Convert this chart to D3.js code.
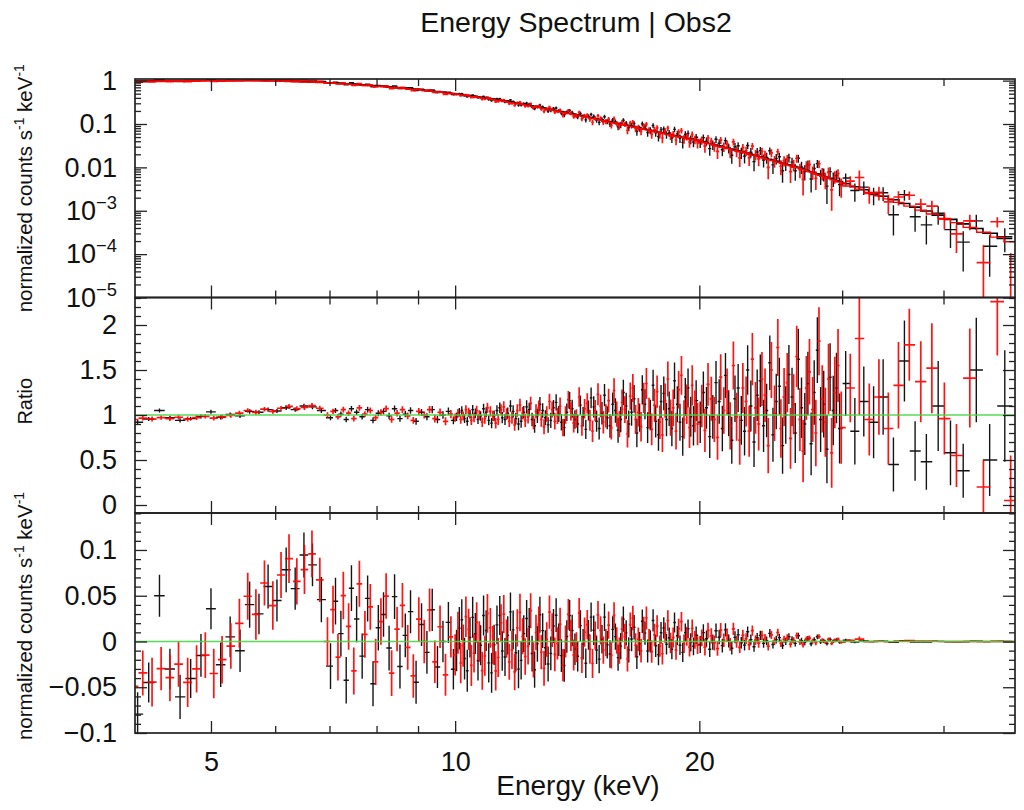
<!DOCTYPE html>
<html>
<head>
<meta charset="utf-8">
<script src="https://cdn.jsdelivr.net/npm/d3@7"></script>
<style>
  body { margin: 0; background: #fff; }
  svg { display: block; }
  text { font-family: "Liberation Sans", Arial, Helvetica, sans-serif; fill: #111; }
</style>
</head>
<body>
<svg id="chart" width="1024" height="810"></svg>
<script>
// ---- Spectral data: two detector groups (black / red), binned channels ----
// bin centre energies (keV)
const blackE = [
  4.06, 4.19, 4.32, 4.45, 4.58, 4.72, 4.86, 5.00, 5.14, 5.28, 5.43, 5.58, 5.73, 5.88, 6.03, 6.19, 6.35, 6.51, 6.67, 6.84,
  7.02, 7.12, 7.23, 7.34, 7.45, 7.56, 7.68, 7.80, 7.92, 8.04, 8.16, 8.29, 8.42, 8.55, 8.68, 8.81, 8.95, 9.09, 9.23, 9.37, 9.51, 9.66, 9.81, 9.95,
  10.04, 10.12, 10.19, 10.27, 10.35, 10.43, 10.51, 10.59, 10.67, 10.75,
  10.84, 10.92, 11.00, 11.09, 11.17, 11.26, 11.35, 11.43, 11.52, 11.61,
  11.70, 11.79, 11.88, 11.97, 12.06, 12.15, 12.25, 12.34, 12.44, 12.53,
  12.63, 12.72, 12.82, 12.92, 13.02, 13.12, 13.22, 13.32, 13.42, 13.52,
  13.63, 13.73, 13.84, 13.94, 14.05, 14.16, 14.27, 14.38, 14.49, 14.60,
  14.71, 14.82, 14.94, 15.05, 15.17, 15.28, 15.40, 15.52, 15.64, 15.76,
  15.88, 16.00, 16.12, 16.25, 16.37, 16.50, 16.62, 16.75, 16.88, 17.01,
  17.14, 17.27, 17.40, 17.54, 17.67, 17.81, 17.94, 18.08, 18.22, 18.36,
  18.50, 18.64, 18.79, 18.93, 19.08, 19.22, 19.37, 19.52, 19.67, 19.82,
  20.05, 20.23, 20.41, 20.60, 20.78, 20.97, 21.16, 21.35, 21.54, 21.74,
  21.93, 22.13, 22.33, 22.53, 22.74, 22.94, 23.15, 23.36, 23.57, 23.78,
  24.00, 24.21, 24.43, 24.65, 24.88, 25.10, 25.33, 25.56, 25.79, 26.02,
  26.26, 26.49, 26.73, 26.98, 27.22, 27.47, 27.71, 27.96, 28.22, 28.47,
  28.73, 28.99, 29.25, 29.52, 29.78,
  30.3, 31.1, 31.9, 32.8, 33.7, 34.7, 35.8, 36.9, 38.1, 39.4, 40.8, 42.3, 43.9, 45.6, 47.6
];
// data / model ratio for each bin
const blackRatio = [
  0.92, 0.955, 1.05, 0.97, 0.94, 0.96, 0.985, 1.035, 0.975, 1.005, 0.99, 1.04, 1.03, 1.06, 1.045, 1.08, 1.06, 1.10, 1.09, 1.05,
  0.97, 1.05, 1.01, 0.95, 1.07, 1.03, 0.98, 1.06, 0.94, 1.02, 1.04, 0.99, 1.07, 0.96, 1.01, 1.05, 0.93, 1.03, 0.98, 1.06, 0.95, 1.00, 1.04, 0.94,
  0.98, 1.03, 1.05, 0.96, 0.93, 1.01, 1.06, 1.02, 0.95, 0.99,
  1.07, 1.03, 0.94, 0.91, 0.99, 1.05, 1.08, 0.97, 0.95, 1.02,
  1.10, 1.04, 0.96, 0.90, 0.93, 1.03, 1.09, 1.06, 0.95, 0.88,
  0.99, 1.12, 1.05, 0.97, 0.89, 0.94, 1.08, 1.14, 1.01, 0.92,
  0.86, 1.03, 1.16, 1.07, 0.95, 0.90, 1.11, 0.98, 0.84, 1.05,
  1.19, 1.09, 0.93, 0.85, 1.02, 1.22, 0.97, 0.88, 1.12, 1.05,
  0.83, 0.95, 1.25, 1.10, 0.90, 1.03, 1.18, 0.80, 0.97, 1.28,
  1.12, 0.86, 1.00, 1.33, 0.93, 0.78, 1.15, 1.24, 0.95, 1.07,
  0.85, 1.38, 1.12, 0.92, 0.76, 1.20, 1.30, 0.98, 0.88, 1.16,
  0.92, 1.25, 1.08, 0.76, 0.98, 1.36, 1.15, 0.85, 1.44, 1.02,
  0.72, 1.18, 1.30, 0.94, 0.82, 1.50, 1.10, 0.70, 1.22, 1.38,
  0.88, 1.05, 1.58, 0.78, 1.15, 1.32, 0.66, 1.00, 1.45, 1.20,
  0.80, 1.62, 1.08, 0.90, 1.35, 0.68, 1.25, 1.72, 0.95, 1.12,
  0.62, 1.42, 1.05, 1.30, 0.85,
  1.35, 0.82, 1.15, 0.92, 1.20, 0.45, 1.60, 0.60, 0.48, 1.10, 0.58, 0.38, 1.50, 0.50, 1.10
];
// 1-sigma error on the ratio
const blackErr = [
  0.024, 0.022, 0.023, 0.022, 0.024, 0.021, 0.023, 0.022, 0.024, 0.022, 0.023, 0.025, 0.022, 0.024, 0.023, 0.025, 0.024, 0.026, 0.025, 0.027,
  0.028, 0.029, 0.029, 0.030, 0.030, 0.031, 0.031, 0.032, 0.032, 0.033, 0.033, 0.034, 0.035, 0.035, 0.036, 0.036, 0.037, 0.038, 0.039, 0.040, 0.041, 0.042, 0.043, 0.044,
  0.046, 0.048, 0.047, 0.049, 0.050, 0.049, 0.051, 0.052, 0.051, 0.053,
  0.054, 0.056, 0.055, 0.057, 0.059, 0.058, 0.060, 0.062, 0.061, 0.063,
  0.065, 0.067, 0.066, 0.069, 0.071, 0.070, 0.073, 0.075, 0.074, 0.077,
  0.079, 0.081, 0.080, 0.083, 0.086, 0.085, 0.088, 0.090, 0.089, 0.092,
  0.095, 0.097, 0.096, 0.100, 0.103, 0.102, 0.106, 0.109, 0.108, 0.112,
  0.115, 0.118, 0.117, 0.121, 0.125, 0.124, 0.128, 0.132, 0.131, 0.135,
  0.139, 0.142, 0.141, 0.146, 0.150, 0.149, 0.154, 0.158, 0.157, 0.162,
  0.166, 0.170, 0.169, 0.174, 0.179, 0.178, 0.183, 0.188, 0.187, 0.192,
  0.197, 0.202, 0.200, 0.206, 0.212, 0.210, 0.216, 0.222, 0.220, 0.227,
  0.230, 0.234, 0.232, 0.238, 0.243, 0.241, 0.247, 0.252, 0.250, 0.256,
  0.261, 0.259, 0.266, 0.271, 0.269, 0.276, 0.282, 0.279, 0.286, 0.292,
  0.290, 0.297, 0.303, 0.300, 0.308, 0.315, 0.312, 0.320, 0.327, 0.324,
  0.332, 0.339, 0.336, 0.345, 0.352, 0.349, 0.357, 0.365, 0.362, 0.371,
  0.379, 0.376, 0.385, 0.393, 0.390,
  0.36, 0.37, 0.39, 0.40, 0.42, 0.30, 0.45, 0.33, 0.31, 0.50, 0.36, 0.30, 0.58, 0.40, 0.62
];

const redE = [
  4.02, 4.12, 4.23, 4.34, 4.45, 4.56, 4.68, 4.80, 4.92, 5.04, 5.16, 5.29, 5.42, 5.55, 5.68, 5.82, 5.96, 6.10, 6.24, 6.38, 6.52, 6.66, 6.81, 6.96,
  7.07, 7.17, 7.28, 7.39, 7.50, 7.62, 7.74, 7.86, 7.98, 8.10, 8.22, 8.35, 8.48, 8.61, 8.74, 8.88, 9.02, 9.16, 9.30, 9.44, 9.58, 9.73, 9.88, 10.00,
  10.08, 10.16, 10.23, 10.31, 10.39, 10.47, 10.55, 10.63, 10.71, 10.80,
  10.88, 10.96, 11.05, 11.13, 11.22, 11.30, 11.39, 11.48, 11.57, 11.66,
  11.75, 11.84, 11.93, 12.02, 12.11, 12.20, 12.30, 12.39, 12.49, 12.58,
  12.68, 12.77, 12.87, 12.97, 13.07, 13.17, 13.27, 13.37, 13.47, 13.58,
  13.68, 13.79, 13.89, 14.00, 14.11, 14.22, 14.33, 14.44, 14.55, 14.66,
  14.77, 14.88, 15.00, 15.11, 15.23, 15.34, 15.46, 15.58, 15.70, 15.82,
  15.94, 16.06, 16.19, 16.31, 16.44, 16.56, 16.69, 16.82, 16.95, 17.08,
  17.21, 17.34, 17.47, 17.61, 17.74, 17.88, 18.01, 18.15, 18.29, 18.43,
  18.57, 18.72, 18.86, 19.01, 19.15, 19.30, 19.45, 19.60, 19.75, 19.90,
  20.14, 20.32, 20.50, 20.69, 20.87, 21.06, 21.25, 21.44, 21.64, 21.83,
  22.03, 22.23, 22.43, 22.63, 22.84, 23.04, 23.25, 23.46, 23.67, 23.89,
  24.10, 24.32, 24.54, 24.76, 24.99, 25.21, 25.44, 25.67, 25.91, 26.14,
  26.37, 26.61, 26.85, 27.10, 27.34, 27.59, 27.84, 28.09, 28.35, 28.60,
  28.86, 29.12, 29.38, 29.65, 29.92,
  30.7, 31.5, 32.4, 33.3, 34.2, 35.2, 36.3, 37.5, 38.7, 40.1, 41.5, 43.1, 44.8, 46.6, 48.4
];
const redRatio = [
  0.95, 0.965, 0.955, 0.97, 0.96, 0.975, 0.955, 0.97, 0.985, 0.965, 0.98, 0.995, 1.02, 1.05, 1.03, 1.065, 1.04, 1.075, 1.095, 1.07, 1.085, 1.105, 1.075, 1.00,
  1.04, 0.98, 1.06, 1.02, 0.96, 1.08, 1.01, 1.05, 0.97, 1.03, 1.07, 0.95, 1.02, 1.06, 0.99, 0.94, 1.04, 1.00, 1.06, 0.96, 1.03, 0.93, 1.01, 0.97,
  1.02, 0.95, 0.99, 1.06, 1.03, 0.94, 0.97, 1.05, 1.00, 0.92,
  0.96, 1.08, 1.04, 0.99, 0.91, 0.95, 1.06, 1.09, 1.01, 0.93,
  0.97, 0.89, 1.05, 1.11, 1.02, 0.94, 0.98, 1.13, 0.92, 1.04,
  1.08, 0.95, 0.87, 1.01, 1.15, 1.06, 0.93, 0.99, 1.10, 0.86,
  1.00, 1.17, 1.04, 0.91, 0.96, 1.20, 0.88, 1.07, 1.13, 0.94,
  0.82, 1.05, 1.23, 1.10, 0.92, 0.99, 1.16, 0.86, 1.27, 1.01,
  0.90, 1.14, 1.06, 0.79, 1.21, 1.30, 0.95, 1.03, 0.87, 1.19,
  1.35, 1.02, 0.84, 1.11, 1.26, 0.92, 0.78, 1.16, 1.40, 0.97,
  1.08, 0.82, 1.28, 1.44, 0.95, 1.12, 0.86, 1.33, 1.04, 0.90,
  1.10, 0.83, 1.34, 1.18, 0.95, 0.75, 1.42, 1.05, 1.26, 0.88,
  1.55, 0.98, 0.72, 1.30, 1.15, 0.82, 1.62, 1.08, 0.90, 1.40,
  1.22, 0.66, 1.50, 1.02, 1.75, 0.85, 1.20, 1.36, 0.74, 1.12,
  1.65, 0.95, 0.60, 1.30, 1.48, 1.06, 0.80, 1.82, 1.18, 0.92,
  1.40, 0.58, 1.25, 1.55, 0.86,
  1.30, 1.85, 0.95, 1.20, 0.85, 1.33, 1.78, 1.37, 1.52, 0.96, 0.55, 1.41, 0.20, 2.26, 0.05
];
const redErr = [
  0.026, 0.025, 0.027, 0.024, 0.026, 0.025, 0.027, 0.026, 0.025, 0.027, 0.026, 0.025, 0.027, 0.026, 0.028, 0.025, 0.027, 0.026, 0.028, 0.027, 0.029, 0.028, 0.027, 0.030,
  0.030, 0.030, 0.031, 0.031, 0.032, 0.032, 0.033, 0.033, 0.034, 0.035, 0.035, 0.036, 0.036, 0.037, 0.038, 0.038, 0.039, 0.040, 0.041, 0.042, 0.043, 0.044, 0.045, 0.046,
  0.048, 0.047, 0.050, 0.049, 0.051, 0.052, 0.050, 0.053, 0.054, 0.052,
  0.056, 0.055, 0.058, 0.057, 0.060, 0.061, 0.059, 0.063, 0.064, 0.062,
  0.067, 0.066, 0.069, 0.071, 0.070, 0.073, 0.075, 0.074, 0.077, 0.079,
  0.081, 0.080, 0.084, 0.086, 0.085, 0.089, 0.091, 0.090, 0.094, 0.096,
  0.098, 0.097, 0.101, 0.104, 0.103, 0.107, 0.110, 0.109, 0.113, 0.116,
  0.119, 0.118, 0.122, 0.126, 0.125, 0.129, 0.133, 0.132, 0.137, 0.141,
  0.144, 0.143, 0.148, 0.152, 0.151, 0.156, 0.160, 0.159, 0.164, 0.169,
  0.172, 0.171, 0.176, 0.181, 0.180, 0.186, 0.191, 0.190, 0.195, 0.201,
  0.204, 0.203, 0.209, 0.215, 0.213, 0.220, 0.226, 0.224, 0.231, 0.237,
  0.236, 0.240, 0.238, 0.245, 0.249, 0.247, 0.254, 0.259, 0.257, 0.263,
  0.268, 0.266, 0.273, 0.279, 0.277, 0.284, 0.290, 0.287, 0.295, 0.301,
  0.298, 0.306, 0.312, 0.309, 0.318, 0.325, 0.322, 0.330, 0.337, 0.334,
  0.343, 0.350, 0.347, 0.356, 0.364, 0.361, 0.369, 0.377, 0.374, 0.383,
  0.391, 0.388, 0.397, 0.405, 0.402,
  0.38, 0.85, 0.40, 0.42, 0.40, 0.48, 0.40, 0.45, 0.50, 0.40, 0.35, 0.55, 0.30, 0.60, 0.50
];

// Folded model (normalized counts s^-1 keV^-1) at reference energies
const modelE     = [4, 5, 6, 7, 8, 9, 10, 11, 12, 13, 15, 17, 20, 23, 26.6, 30, 35, 40, 45, 49];
const modelBlack = [0.99, 1.02, 1.0, 0.9, 0.76, 0.63, 0.50, 0.39, 0.30, 0.225, 0.13, 0.079, 0.041, 0.021, 0.0098, 0.0045, 0.0017, 0.00072, 0.00033, 0.00019];
const modelRed   = [0.98, 1.0, 0.98, 0.88, 0.74, 0.615, 0.49, 0.38, 0.29, 0.218, 0.126, 0.077, 0.040, 0.0203, 0.0094, 0.0043, 0.00162, 0.00068, 0.00031, 0.000178];

// Axis ticks and labels
const energyMajor = [5, 10, 20];
const energyLabels = ["5", "10", "20"];
const specMajor = [1, 0.1, 0.01, 1e-3, 1e-4, 1e-5];
const specLabels = ["1", "0.1", "0.01", "10^\u22123", "10^\u22124", "10^\u22125"];
const ratioMajor = [0, 0.5, 1, 1.5, 2];
const ratioLabels = ["0", "0.5", "1", "1.5", "2"];
const resMajor = [-0.1, -0.05, 0, 0.05, 0.1];
const resLabels = ["\u22120.1", "\u22120.05", "0", "0.05", "0.1"];

// ---- Layout ----
const L = 135, R = 1015;
const P1 = { top: 79, bottom: 297.5 };
const P2 = { top: 297.5, bottom: 513 };
const P3 = { top: 513, bottom: 733 };
const BLACK = "#000000", RED = "#ff0000", GREEN = "#44d844", FRAME = "#222";

const svg = d3.select("#chart");

const x = d3.scaleLog().domain([4.03, 49.0]).range([L, R]);
const ySpec = d3.scaleLog().domain([1e-5, 1.09]).range([P1.bottom, P1.top]);
const yRatio = d3.scaleLinear().domain([-0.0889, 2.3056]).range([P2.bottom, P2.top]);
const yRes = d3.scaleLinear().domain([-0.1, 0.1404]).range([P3.bottom, P3.top]);

function buildSeries(E, ratio, err, mE, mV) {
  const mScale = d3.scaleLog().domain(mE).range(mV.map(Math.log10));
  const n = Math.min(E.length, ratio.length, err.length);
  return E.slice(0, n).map((e, i) => {
    const prev = i > 0 ? E[i - 1] : e * e / E[i + 1];
    const next = i < n - 1 ? E[i + 1] : e * e / E[i - 1];
    const m = Math.pow(10, mScale(e));
    return {
      e, lo: Math.sqrt(prev * e), hi: Math.sqrt(e * next), m,
      ratio: ratio[i], err: err[i],
      counts: ratio[i] * m, cErr: err[i] * m,
      res: (ratio[i] - 1) * m, rErr: err[i] * m
    };
  });
}
const black = buildSeries(blackE, blackRatio, blackErr, modelE, modelBlack);
const red = buildSeries(redE, redRatio, redErr, modelE, modelRed);

// clip paths
const defs = svg.append("defs");
[P1, P2, P3].forEach((p, i) => {
  defs.append("clipPath").attr("id", "clip" + i)
    .append("rect").attr("x", L).attr("y", p.top).attr("width", R - L).attr("height", p.bottom - p.top);
});

function crosses(g, pts, yOf, color, width) {
  g.append("g").attr("stroke", color).attr("stroke-width", width).attr("stroke-opacity", 0.92).attr("fill", "none")
    .selectAll("path").data(pts).join("path")
    .attr("d", d => {
      const [yc, y1, y2] = yOf(d);
      return `M${x(d.lo)},${yc}H${x(d.hi)}M${x(d.e)},${y1}V${y2}`;
    });
}

// ---- Panel 1: folded spectrum with model ----
const g1 = svg.append("g").attr("clip-path", "url(#clip0)");
const specY = d => [ySpec(d.counts), ySpec(d.counts + d.cErr), ySpec(Math.max(d.counts - d.cErr, 1e-8))];
const step = d3.line().x(d => x(d[0])).y(d => ySpec(d[1])).curve(d3.curveStepAfter);
const stepPts = s => s.map(d => [d.lo, d.m]).concat([[s[s.length - 1].hi, s[s.length - 1].m]]);
crosses(g1, black, specY, BLACK, 1.4);
g1.append("path").attr("d", step(stepPts(black))).attr("fill", "none").attr("stroke", BLACK).attr("stroke-width", 1.6);
crosses(g1, red, specY, RED, 1.7);
g1.append("path").attr("d", step(stepPts(red))).attr("fill", "none").attr("stroke", RED).attr("stroke-width", 1.4);

// ---- Panel 2: ratio ----
const g2 = svg.append("g").attr("clip-path", "url(#clip1)");
const ratioY = d => [yRatio(d.ratio), yRatio(d.ratio + d.err), yRatio(d.ratio - d.err)];
crosses(g2, black, ratioY, BLACK, 1.4);
crosses(g2, red, ratioY, RED, 1.7);
g2.append("line").attr("x1", L).attr("x2", R).attr("y1", yRatio(1)).attr("y2", yRatio(1))
  .attr("stroke", GREEN).attr("stroke-width", 1.6).attr("stroke-opacity", 0.9);

// ---- Panel 3: residuals ----
const g3 = svg.append("g").attr("clip-path", "url(#clip2)");
const resY = d => [yRes(d.res), yRes(d.res + d.rErr), yRes(d.res - d.rErr)];
crosses(g3, black, resY, BLACK, 1.4);
crosses(g3, red, resY, RED, 1.7);
g3.append("line").attr("x1", L).attr("x2", R).attr("y1", yRes(0)).attr("y2", yRes(0))
  .attr("stroke", GREEN).attr("stroke-width", 1.6).attr("stroke-opacity", 0.9);

// ---- Axes ----
const FONT = 27;
function styleAxis(g) {
  g.select(".domain").remove();
  g.selectAll(".tick line").attr("stroke", FRAME).attr("stroke-width", 1.3);
  g.attr("font-family", null).attr("font-size", FONT);
  g.selectAll("text").attr("fill", "#111");
}
function supLabel(textSel, label, shift) {
  textSel.text(null);
  const parts = label.split("^");
  textSel.append("tspan").text(parts[0]);
  if (parts.length > 1) textSel.append("tspan").attr("font-size", "68%").attr("dy", -shift).text(parts[1]);
}

const xMinor = x.ticks().filter(v => !energyMajor.includes(v));
function xAxes(p, labelled) {
  const mk = (gen, y, vals, size, fmt) => svg.append("g").attr("transform", `translate(0,${y})`)
    .call(gen(x).tickValues(vals).tickSizeInner(size).tickSizeOuter(0).tickPadding(19).tickFormat(fmt)).call(styleAxis);
  mk(d3.axisBottom, p.bottom, energyMajor, -12, labelled ? (d, i) => energyLabels[i] : () => "");
  mk(d3.axisBottom, p.bottom, xMinor, -7, () => "");
  mk(d3.axisTop, p.top, energyMajor, -12, () => "");
  mk(d3.axisTop, p.top, xMinor, -7, () => "");
}
function yAxes(scale, majors, labels, minors, supShift) {
  const left = svg.append("g").attr("transform", `translate(${L},0)`)
    .call(d3.axisLeft(scale).tickValues(majors).tickSizeInner(-12).tickSizeOuter(0).tickPadding(18)
      .tickFormat((d, i) => labels[i])).call(styleAxis);
  left.selectAll(".tick text").each(function (d, i) {
    if (labels[i].includes("^")) supLabel(d3.select(this), labels[i], supShift);
  });
  svg.append("g").attr("transform", `translate(${L},0)`)
    .call(d3.axisLeft(scale).tickValues(minors).tickSizeInner(-6).tickSizeOuter(0).tickFormat(() => "")).call(styleAxis);
  svg.append("g").attr("transform", `translate(${R},0)`)
    .call(d3.axisRight(scale).tickValues(majors).tickSizeInner(-12).tickSizeOuter(0).tickFormat(() => "")).call(styleAxis);
  svg.append("g").attr("transform", `translate(${R},0)`)
    .call(d3.axisRight(scale).tickValues(minors).tickSizeInner(-6).tickSizeOuter(0).tickFormat(() => "")).call(styleAxis);
}

yAxes(ySpec, specMajor, specLabels, ySpec.ticks().filter(v => !specMajor.some(m => Math.abs(Math.log10(m) - Math.log10(v)) < 1e-6)), 11);
yAxes(yRatio, ratioMajor, ratioLabels, yRatio.ticks(24).filter(v => !ratioMajor.some(m => Math.abs(m - v) < 1e-6)), 0);
yAxes(yRes, resMajor, resLabels, yRes.ticks(24).filter(v => !resMajor.some(m => Math.abs(m - v) < 1e-6)), 0);
xAxes(P1, false);
xAxes(P2, false);
xAxes(P3, true);

// frames
[P1, P2, P3].forEach(p => {
  svg.append("rect").attr("x", L).attr("y", p.top).attr("width", R - L).attr("height", p.bottom - p.top)
    .attr("fill", "none").attr("stroke", FRAME).attr("stroke-width", 1.7);
});

// ---- Titles and axis labels ----
svg.append("text").attr("x", 576).attr("y", 32).attr("text-anchor", "middle").attr("font-size", 28.5)
  .text("Energy Spectrum | Obs2");
svg.append("text").attr("x", 578).attr("y", 795).attr("text-anchor", "middle").attr("font-size", 28)
  .text("Energy (keV)");

function countsLabel(cy) {
  const t = svg.append("text").attr("transform", `translate(32,${cy}) rotate(-90)`)
    .attr("text-anchor", "middle").attr("font-size", 20.5);
  t.append("tspan").text("normalized counts s");
  t.append("tspan").attr("font-size", "68%").attr("dy", -8).text("-1");
  t.append("tspan").attr("dy", 8).text(" keV");
  t.append("tspan").attr("font-size", "68%").attr("dy", -8).text("-1");
}
countsLabel((P1.top + P1.bottom) / 2);
countsLabel(616);
svg.append("text").attr("transform", `translate(32,${(P2.top + P2.bottom) / 2 - 4}) rotate(-90)`)
  .attr("text-anchor", "middle").attr("font-size", 20).text("Ratio");
</script>
</body>
</html>
